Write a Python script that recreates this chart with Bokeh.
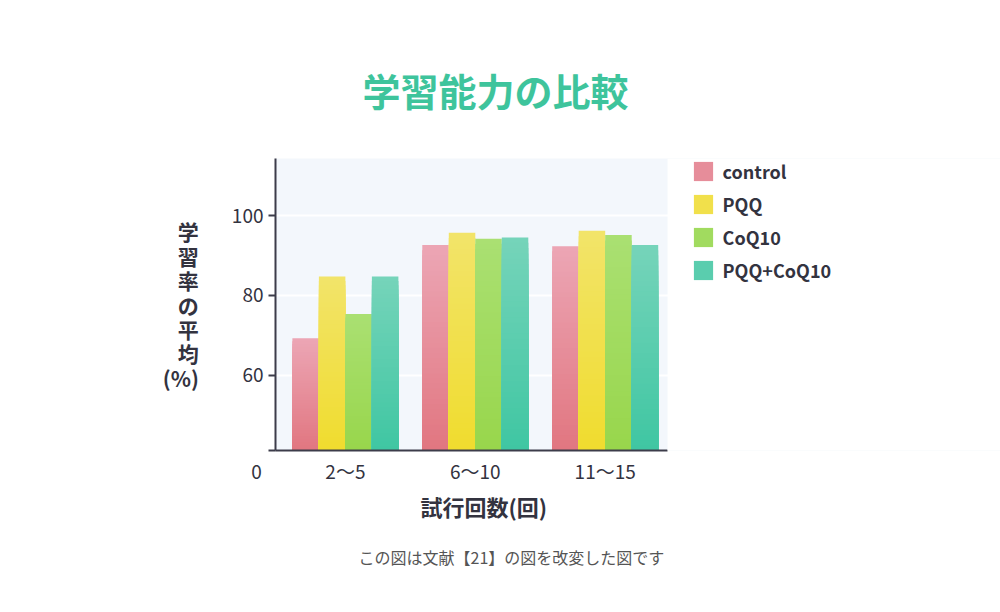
import numpy as np
from bokeh.plotting import figure
from bokeh.models import ColumnDataSource, Legend, LegendItem, Title, FixedTicker, Range1d, BoxAnnotation
from bokeh.embed import file_html
from bokeh.resources import INLINE

# ---- data ----
categories = ["2〜5", "6〜10", "11〜15"]
series_names = ["control", "PQQ", "CoQ10", "PQQ+CoQ10"]
control = [69.2, 92.6, 92.3]
pqq = [84.7, 95.7, 96.2]
coq10 = [75.3, 94.2, 95.1]
pqq_coq10 = [84.7, 94.5, 92.6]
y_ticks = [60, 80, 100]

values = [control, pqq, coq10, pqq_coq10]
top_colors = [(236, 166, 181), (242, 228, 106), (170, 224, 114), (118, 212, 186)]
bottom_colors = [(225, 118, 128), (240, 220, 46), (152, 214, 76), (63, 198, 162)]

FONT = "Noto Sans CJK JP"
DARK = "#33333f"

W, H = 1000, 612
L, R, T, B = 275, 0, 158, 162

y_floor, y_top = 41.07, 114.3
x_start, x_data_end, x_end = -0.538, 2.480, 5.043   # right part of the frame holds the legend
p = figure(width=W, height=H, x_range=Range1d(x_start, x_end), y_range=Range1d(y_floor, y_top),
           output_backend="svg", toolbar_location=None,
           min_border_left=L, min_border_right=R, min_border_top=T, min_border_bottom=B)
p.background_fill_color = "#f3f7fc"
p.border_fill_color = "white"
p.outline_line_color = None
p.xgrid.visible = False
p.ygrid.ticker = FixedTicker(ticks=y_ticks)
p.ygrid.grid_line_color = "white"
p.ygrid.grid_line_width = 2

# white area to the right of the plotting region (legend area)
p.add_layout(BoxAnnotation(left=x_data_end, fill_color="white", fill_alpha=1.0, line_color=None))

# title
p.title.text = "学習能力の比較"
p.title.align = "left"
p.title.offset = 87
p.title.standoff = 84
p.title.text_font = FONT
p.title.text_font_size = "38px"
p.title.text_font_style = "bold"
p.title.text_color = "#3ec49c"

# axes
p.yaxis.ticker = FixedTicker(ticks=[y_floor] + y_ticks)
p.yaxis.major_label_overrides = {y_floor: ""}
p.yaxis.minor_tick_line_color = None
p.yaxis.major_tick_in = 0
p.yaxis.major_tick_out = 7
p.yaxis.major_label_standoff = 5
p.yaxis.axis_label = "学\n習\n率\nの\n平\n均\n(%)"
p.yaxis.axis_label_orientation = "horizontal"
p.yaxis.axis_label_standoff = 30
p.yaxis.axis_label_text_font_size = "21px"
p.yaxis.axis_label_text_line_height = 0.815

x0_tick = x_start + 0.0005
p.xaxis.bounds = (x_start, x_data_end)
p.xaxis.ticker = FixedTicker(ticks=[x0_tick] + list(range(len(categories))))
ovr = {i: c for i, c in enumerate(categories)}
ovr[x0_tick] = "0\u2003\u2003"
p.xaxis.major_label_overrides = ovr
p.xaxis.major_tick_in = 0
p.xaxis.major_tick_out = 0
p.xaxis.minor_tick_line_color = None
p.xaxis.major_label_standoff = 6
for ax in (p.xaxis, p.yaxis):
    ax.axis_line_color = "#3c3c4a"
    ax.axis_line_width = 2
    ax.major_tick_line_color = "#3c3c4a"
    ax.major_tick_line_width = 2
    ax.major_label_text_font = FONT
    ax.major_label_text_font_size = "19px"
    ax.major_label_text_color = DARK
    ax.axis_label_text_font = FONT
    ax.axis_label_text_font_style = "bold"
    ax.axis_label_text_color = DARK

# x axis title and footnote below the axis
p.add_layout(Title(text="試行回数(回)", align="left", offset=145, standoff=2,
                   text_font=FONT, text_font_size="22px", text_font_style="bold",
                   text_color=DARK), "below")
p.add_layout(Title(text="この図は文献【21】の図を改変した図です", align="left", offset=83, standoff=40,
                   text_font=FONT, text_font_size="16px", text_font_style="normal",
                   text_color="#555555"), "below")

# bars with vertical gradient
N = 40
offsets = [-0.306, -0.102, 0.102, 0.306]
bar_w = 0.204
legend_items = []
for s, vals in enumerate(values):
    xs, tops, cols = [], [], []
    for k in range(N, 0, -1):
        t = (k - 0.5) / N
        c = tuple(int(round(bottom_colors[s][j] + (top_colors[s][j] - bottom_colors[s][j]) * t)) for j in range(3))
        hexc = "#%02x%02x%02x" % c
        for i, v in enumerate(vals):
            xs.append(i + offsets[s])
            tops.append(y_floor + (v - y_floor) * k / N)
            cols.append(hexc)
    src = ColumnDataSource(dict(x=xs, top=tops, color=cols))
    r = p.vbar(x="x", width=bar_w, bottom=y_floor, top="top", fill_color="color", line_color=None, source=src)
    legend_items.append(LegendItem(label=series_names[s], renderers=[r], index=(N // 2) * len(vals)))

legend = Legend(items=legend_items, location=(415.6, 167.4), orientation="vertical",
                glyph_width=24, glyph_height=24, label_height=19, spacing=7,
                padding=0, margin=0, border_line_color=None, background_fill_alpha=0,
                label_text_font=FONT, label_text_font_style="bold", label_text_font_size="18px",
                label_text_color=DARK, label_standoff=8)
p.add_layout(legend)

open("out.html", "w").write(file_html(p, INLINE))
